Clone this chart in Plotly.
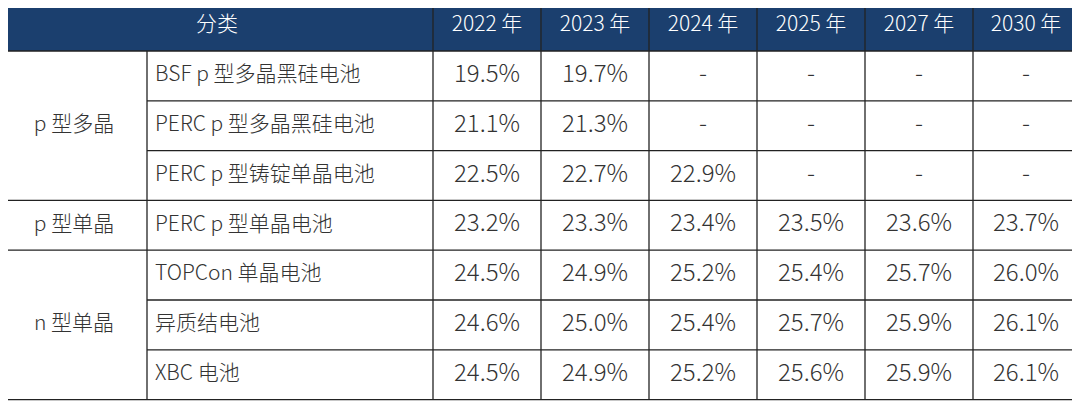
import plotly.graph_objects as go

years = ["2022 年", "2023 年", "2024 年", "2025 年", "2027 年", "2030 年"]
groups = ["p 型多晶", "p 型单晶", "n 型单晶"]
group_rows = [3, 1, 3]
cells = ["BSF p 型多晶黑硅电池", "PERC p 型多晶黑硅电池", "PERC p 型铸锭单晶电池",
         "PERC p 型单晶电池", "TOPCon 单晶电池", "异质结电池", "XBC 电池"]
values = [
    ["19.5%", "19.7%", "-", "-", "-", "-"],
    ["21.1%", "21.3%", "-", "-", "-", "-"],
    ["22.5%", "22.7%", "22.9%", "-", "-", "-"],
    ["23.2%", "23.3%", "23.4%", "23.5%", "23.6%", "23.7%"],
    ["24.5%", "24.9%", "25.2%", "25.4%", "25.7%", "26.0%"],
    ["24.6%", "25.0%", "25.4%", "25.7%", "25.9%", "26.1%"],
    ["24.5%", "24.9%", "25.2%", "25.6%", "25.9%", "26.1%"],
]

W, H = 1080, 401
OFF = 8  # page body margin
head_h = 51
row_h = 49.8
x_cols = [1, 147, 433, 541, 649, 757, 865, 973, 1079]
navy = "#1B3F6E"
line = "#222222"
font = "Noto Sans CJK SC, Open Sans, sans-serif"
txt = "#333333"

fig = go.Figure()
shapes = []
shapes.append(dict(type="rect", x0=0, x1=W, y0=0, y1=head_h, fillcolor=navy, line_width=0, layer="below"))

bottom = head_h + row_h * len(cells)
for i, x in enumerate(x_cols):
    y0 = 0 if i in (0, len(x_cols) - 1) or i >= 2 else head_h
    shapes.append(dict(type="line", x0=x, x1=x, y0=y0, y1=bottom, line=dict(color=line, width=1.3)))
shapes.append(dict(type="line", x0=0, x1=W, y0=1, y1=1, line=dict(color=line, width=1.3)))
shapes.append(dict(type="line", x0=0, x1=W, y0=head_h, y1=head_h, line=dict(color=line, width=1.3)))
group_ends = set()
acc = 0
for g in group_rows:
    acc += g
    group_ends.add(acc)
for r in range(1, len(cells) + 1):
    y = head_h + row_h * r
    x0 = 0 if r in group_ends else x_cols[1]
    shapes.append(dict(type="line", x0=x0, x1=W, y0=y, y1=y, line=dict(color=line, width=1.3)))

hx = [(x_cols[0] + x_cols[2]) / 2] + [(x_cols[i] + x_cols[i + 1]) / 2 for i in range(2, 8)]
fig.add_trace(go.Scatter(x=hx, y=[head_h / 2] * 7, mode="text", text=["分类"] + years,
                         textfont=dict(color="white", size=21, family=font, weight=300), hoverinfo="skip"))

gy = []
acc = 0
for g in group_rows:
    gy.append(head_h + row_h * (acc + g / 2))
    acc += g
fig.add_trace(go.Scatter(x=[(x_cols[0] + x_cols[1]) / 2] * 3, y=gy, mode="text", text=groups,
                         textfont=dict(color=txt, size=21, family=font, weight=300), hoverinfo="skip"))

ry = [head_h + row_h * (r + 0.5) for r in range(len(cells))]
fig.add_trace(go.Scatter(x=[155] * len(cells), y=ry, mode="text", text=cells, textposition="middle right",
                         textfont=dict(color=txt, size=21, family=font, weight=300), hoverinfo="skip"))

for j in range(6):
    fig.add_trace(go.Scatter(x=[hx[j + 1]] * len(cells), y=ry, mode="text",
                             text=[row[j] for row in values],
                             textfont=dict(color=txt, size=24, family=font, weight=300), hoverinfo="skip"))

fig.update_layout(
    width=W - OFF, height=H - OFF, margin=dict(l=0, r=0, t=0, b=0),
    plot_bgcolor="white", paper_bgcolor="white", showlegend=False, shapes=shapes,
    xaxis=dict(range=[OFF, W], visible=False, fixedrange=True),
    yaxis=dict(range=[H, OFF], visible=False, fixedrange=True),
)
fig.write_html("out.html")
